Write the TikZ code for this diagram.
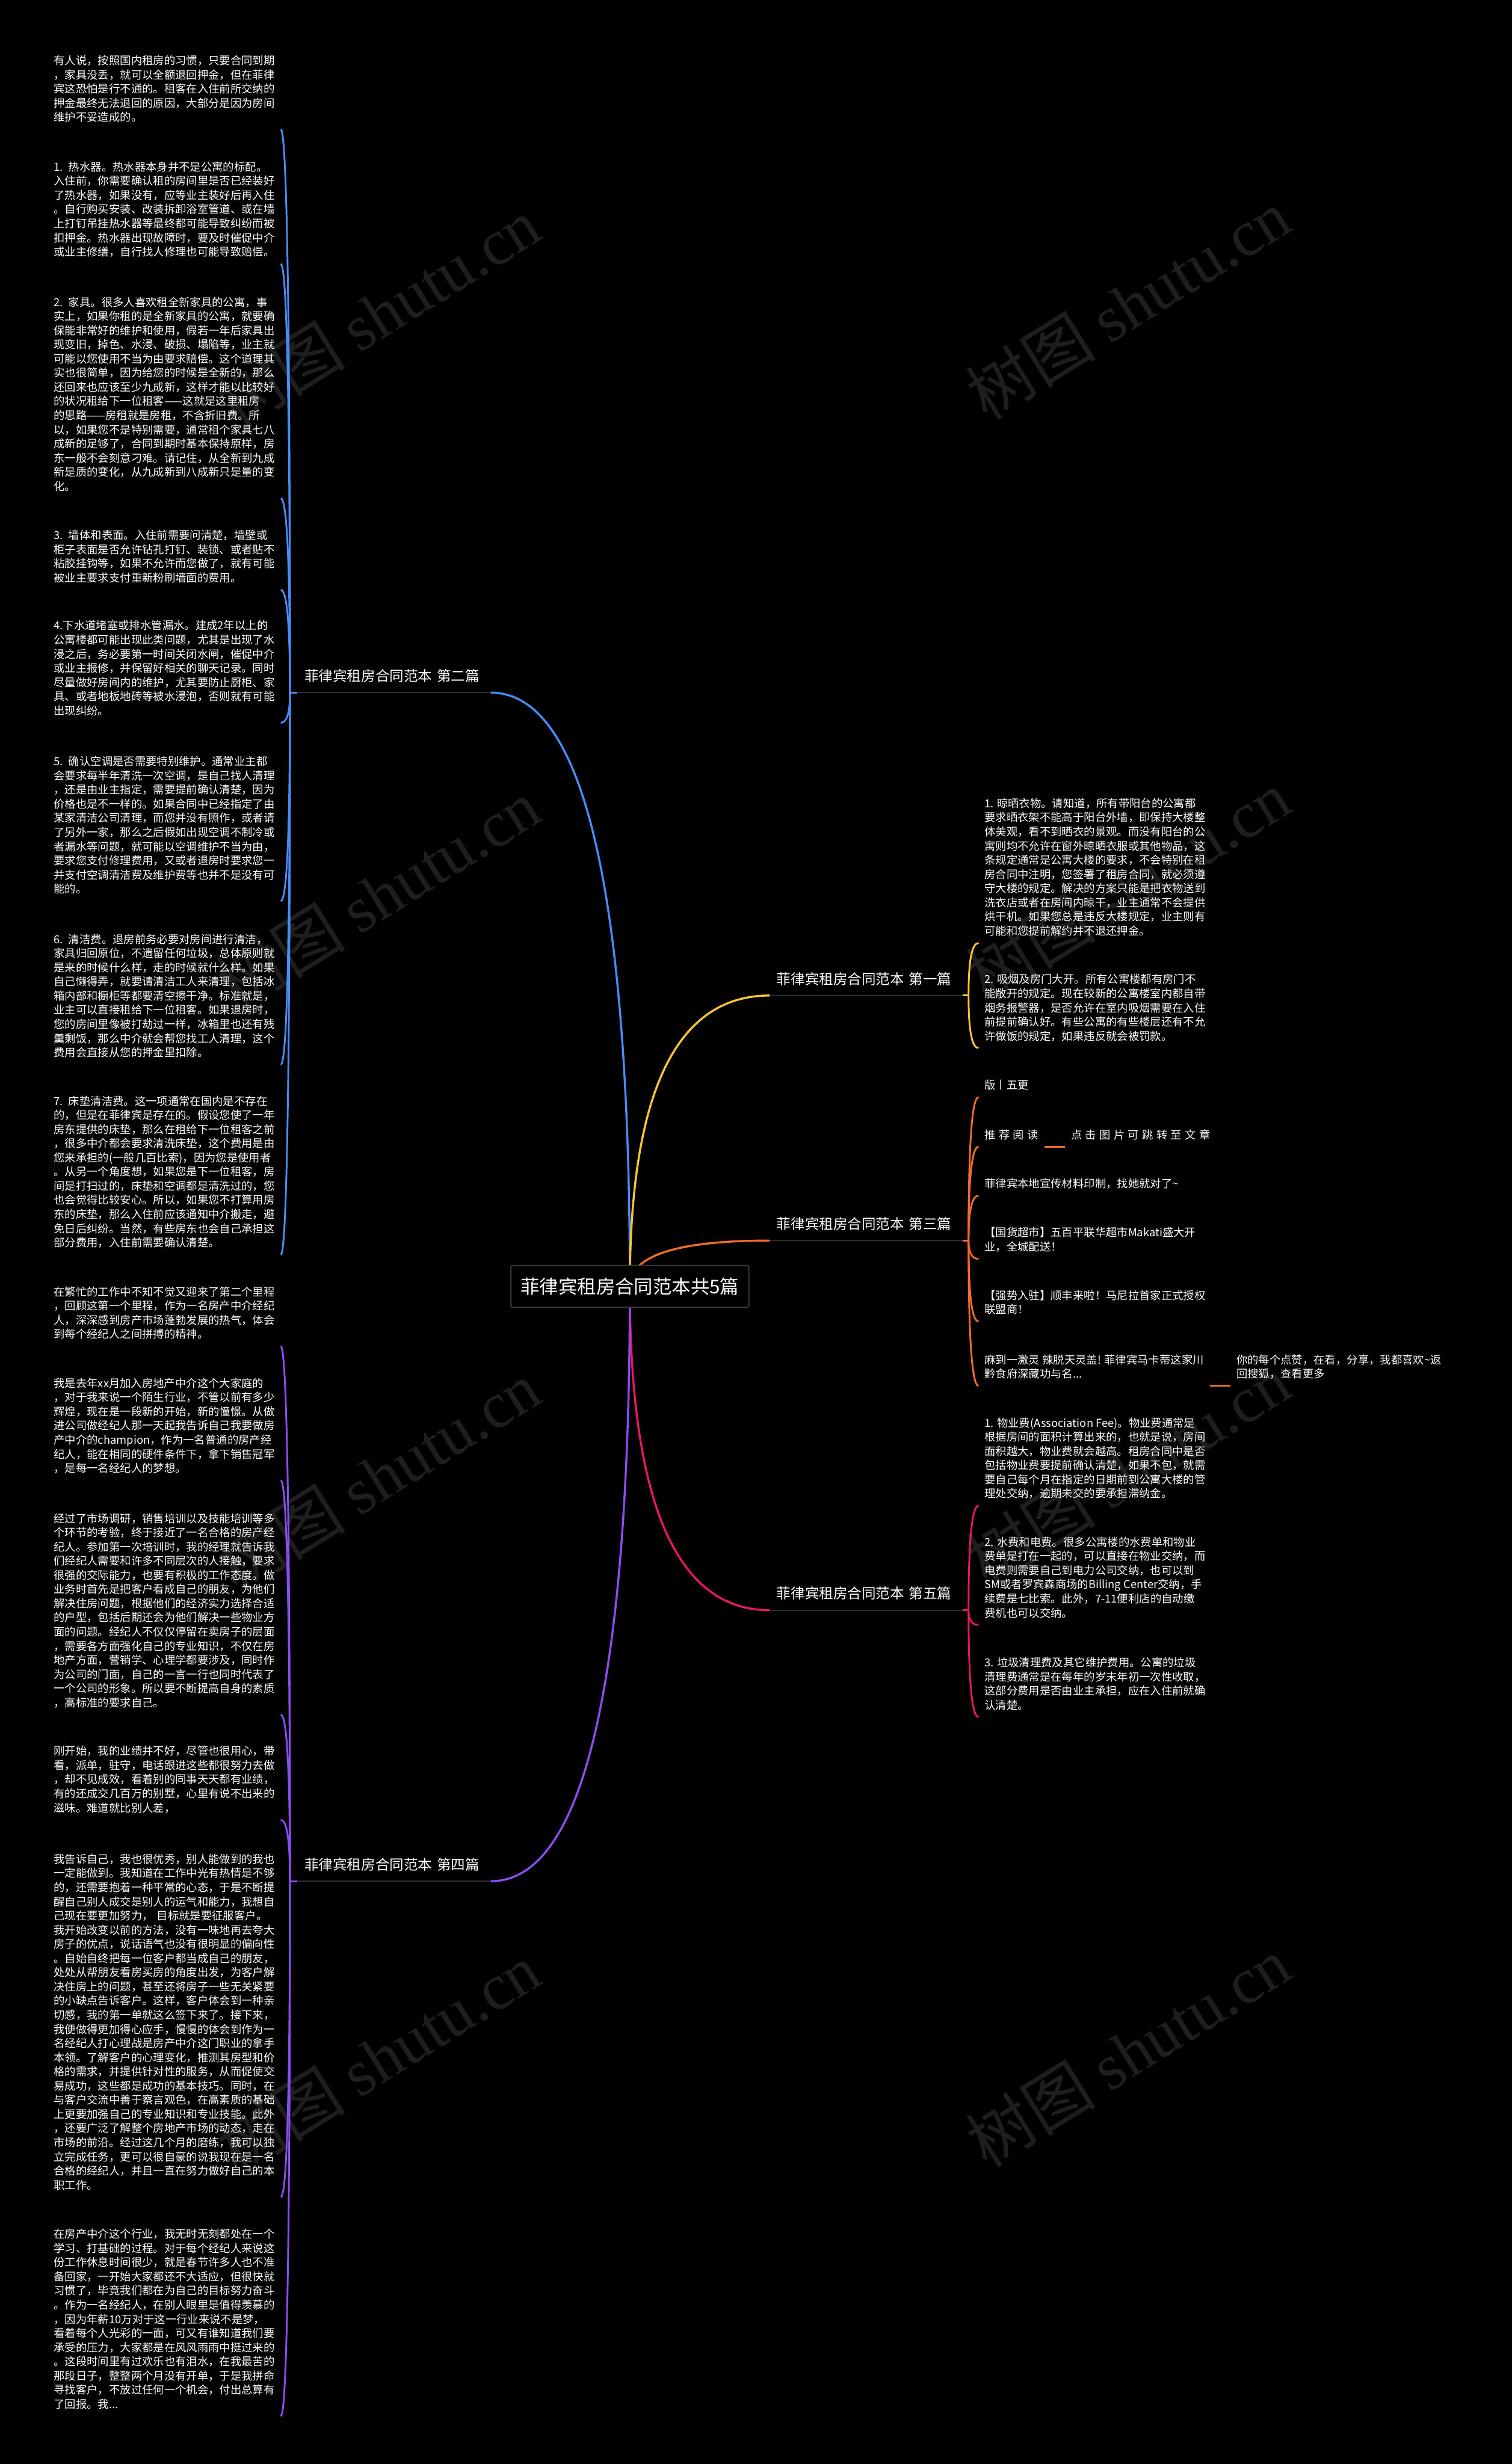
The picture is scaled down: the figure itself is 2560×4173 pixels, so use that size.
\documentclass[tikz,border=0pt]{standalone}
\usepackage{fontspec}
\setmainfont{Noto Sans CJK SC}
\newfontfamily\spacedfont{Noto Sans CJK SC}[LetterSpace=29]
\newfontfamily\wmfont{Liberation Serif}
\usetikzlibrary{calc}
\hyphenpenalty=10000
\exhyphenpenalty=10000
\definecolor{cblue}{HTML}{4A8CF7}
\definecolor{cyellow}{HTML}{F8C630}
\definecolor{corange}{HTML}{F26B2A}
\definecolor{cpink}{HTML}{E8175F}
\definecolor{cpurple}{HTML}{8A4DF2}
\definecolor{ulc}{HTML}{2E2E2E}
\definecolor{boxc}{HTML}{3A3A3A}
\definecolor{wmc}{HTML}{1E1E1E}
\tikzset{
  mainline/.style={line width=3.5pt},
  bracketline/.style={line width=3pt},
  lchild/.style={anchor=south west, text width=380pt, align=left, inner xsep=4pt, inner ysep=6pt,
    font=\fontsize{18.7pt}{24pt}\selectfont, text=white, execute at end node=\strut},
  rchild/.style={anchor=south west, align=left, inner xsep=10pt, inner ysep=6pt,
    font=\fontsize{18.7pt}{24pt}\selectfont, text=white, execute at end node=\strut},
  branch/.style={font=\fontsize{24pt}{28pt}\selectfont, text=white, text width=303pt, align=left,
    text height=17pt, text depth=5pt, inner xsep=12pt, inner ysep=14pt},
  uline/.style={draw=ulc, line width=2pt},
  centernode/.style={draw=boxc, line width=2pt, fill=black, rounded corners=3pt,
    minimum width=403pt, minimum height=71pt, font=\fontsize{32pt}{36pt}\selectfont,
    text=white, inner sep=0pt},
  wm/.style={font=\fontsize{110pt}{110pt}\selectfont, text=wmc, rotate=32, inner sep=0pt},
  qc/.style={to path={.. controls ($(\tikztostart)!0.667!(\tikztostart|-\tikztotarget)$)
      and ($(\tikztotarget)!0.667!(\tikztostart|-\tikztotarget)$) .. (\tikztotarget)}}
}
\begin{document}
\begin{tikzpicture}[x=1pt,y=-1pt]
\useasboundingbox (0,0) rectangle (2560,4173);
\fill[black] (0,0) rectangle (2560,4173);

% watermarks
\foreach \wx/\wy [count=\i] in {640/530, 1910/515, 640/1515, 1910/1500, 640/2500, 1910/2490, 640/3485, 1910/3475}
  {\node[wm] (wm\i) at (\wx,\wy) {树图 {\wmfont shutu.cn}};}

\coordinate (cc) at (1066.5,2178.5);

% branch nodes
\node[branch, anchor=south west] (B1) at (1303,1686) {菲律宾租房合同范本 第一篇};
\node[branch, anchor=south east] (B2) at (831,1173) {菲律宾租房合同范本 第二篇};
\node[branch, anchor=south west] (B3) at (1303,2101) {菲律宾租房合同范本 第三篇};
\node[branch, anchor=south east] (B4) at (831,3186) {菲律宾租房合同范本 第四篇};
\node[branch, anchor=south west] (B5) at (1303,2727) {菲律宾租房合同范本 第五篇};

\coordinate (j1) at (1640,1686);
\coordinate (j2) at (491,1173);
\coordinate (j3) at (1640,2101);
\coordinate (j4) at (491,3186);
\coordinate (j5) at (1640,2727);

% left children of B2
\node[lchild] (L0) at (87,219) {有人说，按照国内租房的习惯，只要合同到期\\，家具没丢，就可以全额退回押金，但在菲律\\宾这恐怕是行不通的。租客在入住前所交纳的\\押金最终无法退回的原因，大部分是因为房间\\维护不妥造成的。};
\node[lchild] (L1) at (87,447) {1. 热水器。热水器本身并不是公寓的标配。\\入住前，你需要确认租的房间里是否已经装好\\了热水器，如果没有，应等业主装好后再入住\\。自行购买安装、改装拆卸浴室管道、或在墙\\上打钉吊挂热水器等最终都可能导致纠纷而被\\扣押金。热水器出现故障时，要及时催促中介\\或业主修缮，自行找人修理也可能导致赔偿。};
\node[lchild] (L2) at (87,844) {2. 家具。很多人喜欢租全新家具的公寓，事\\实上，如果你租的是全新家具的公寓，就要确\\保能非常好的维护和使用，假若一年后家具出\\现变旧，掉色、水浸、破损、塌陷等，业主就\\可能以您使用不当为由要求赔偿。这个道理其\\实也很简单，因为给您的时候是全新的，那么\\还回来也应该至少九成新，这样才能以比较好\\的状况租给下一位租客——这就是这里租房\\的思路——房租就是房租，不含折旧费。所\\以，如果您不是特别需要，通常租个家具七八\\成新的足够了，合同到期时基本保持原样，房\\东一般不会刻意刁难。请记住，从全新到九成\\新是质的变化，从九成新到八成新只是量的变\\化。};
\node[lchild] (L3) at (87,999) {3. 墙体和表面。入住前需要问清楚，墙壁或\\柜子表面是否允许钻孔打钉、装锁、或者贴不\\粘胶挂钩等，如果不允许而您做了，就有可能\\被业主要求支付重新粉刷墙面的费用。};
\node[lchild] (L4) at (87,1224) {4.下水道堵塞或排水管漏水。建成2年以上的\\公寓楼都可能出现此类问题，尤其是出现了水\\浸之后，务必要第一时间关闭水闸，催促中介\\或业主报修，并保留好相关的聊天记录。同时\\尽量做好房间内的维护，尤其要防止厨柜、家\\具、或者地板地砖等被水浸泡，否则就有可能\\出现纠纷。};
\node[lchild] (L5) at (87,1526) {5. 确认空调是否需要特别维护。通常业主都\\会要求每半年清洗一次空调，是自己找人清理\\，还是由业主指定，需要提前确认清楚，因为\\价格也是不一样的。如果合同中已经指定了由\\某家清洁公司清理，而您并没有照作，或者请\\了另外一家，那么之后假如出现空调不制冷或\\者漏水等问题，就可能以空调维护不当为由，\\要求您支付修理费用，又或者退房时要求您一\\并支付空调清洁费及维护费等也并不是没有可\\能的。};
\node[lchild] (L6) at (87,1803) {6. 清洁费。退房前务必要对房间进行清洁，\\家具归回原位，不遗留任何垃圾，总体原则就\\是来的时候什么样，走的时候就什么样。如果\\自己懒得弄，就要请清洁工人来清理，包括冰\\箱内部和橱柜等都要清空擦干净。标准就是，\\业主可以直接租给下一位租客。如果退房时，\\您的房间里像被打劫过一样，冰箱里也还有残\\羹剩饭，那么中介就会帮您找工人清理，这个\\费用会直接从您的押金里扣除。};
\node[lchild] (L7) at (87,2125) {7. 床垫清洁费。这一项通常在国内是不存在\\的，但是在菲律宾是存在的。假设您使了一年\\房东提供的床垫，那么在租给下一位租客之前\\，很多中介都会要求清洗床垫，这个费用是由\\您来承担的(一般几百比索)，因为您是使用者\\。从另一个角度想，如果您是下一位租客，房\\间是打扫过的，床垫和空调都是清洗过的，您\\也会觉得比较安心。所以，如果您不打算用房\\东的床垫，那么入住前应该通知中介搬走，避\\免日后纠纷。当然，有些房东也会自己承担这\\部分费用，入住前需要确认清楚。};

% left children of B4
\node[lchild] (L8) at (87,2280) {在繁忙的工作中不知不觉又迎来了第二个里程\\，回顾这第一个里程，作为一名房产中介经纪\\人，深深感到房产市场蓬勃发展的热气，体会\\到每个经纪人之间拼搏的精神。};
\node[lchild] (L9) at (87,2507) {我是去年xx月加入房地产中介这个大家庭的\\，对于我来说一个陌生行业，不管以前有多少\\辉煌，现在是一段新的开始，新的憧憬。从做\\进公司做经纪人那一天起我告诉自己我要做房\\产中介的champion，作为一名普通的房产经\\纪人，能在相同的硬件条件下，拿下销售冠军\\，是每一名经纪人的梦想。};
\node[lchild] (L10) at (87,2904) {经过了市场调研，销售培训以及技能培训等多\\个环节的考验，终于接近了一名合格的房产经\\纪人。参加第一次培训时，我的经理就告诉我\\们经纪人需要和许多不同层次的人接触，要求\\很强的交际能力，也要有积极的工作态度。做\\业务时首先是把客户看成自己的朋友，为他们\\解决住房问题，根据他们的经济实力选择合适\\的户型，包括后期还会为他们解决一些物业方\\面的问题。经纪人不仅仅停留在卖房子的层面\\，需要各方面强化自己的专业知识，不仅在房\\地产方面，营销学、心理学都要涉及，同时作\\为公司的门面，自己的一言一行也同时代表了\\一个公司的形象。所以要不断提高自身的素质\\，高标准的要求自己。};
\node[lchild] (L11) at (87,3082) {刚开始，我的业绩并不好，尽管也很用心，带\\看，派单，驻守，电话跟进这些都很努力去做\\，却不见成效，看着别的同事天天都有业绩，\\有的还成交几百万的别墅，心里有说不出来的\\滋味。难道就比别人差，};
\node[lchild] (L12) at (87,3721) {我告诉自己，我也很优秀，别人能做到的我也\\一定能做到。我知道在工作中光有热情是不够\\的，还需要抱着一种平常的心态，于是不断提\\醒自己别人成交是别人的运气和能力，我想自\\己现在要更加努力， 目标就是要征服客户。\\我开始改变以前的方法，没有一味地再去夸大\\房子的优点，说话语气也没有很明显的偏向性\\。自始自终把每一位客户都当成自己的朋友，\\处处从帮朋友看房买房的角度出发，为客户解\\决住房上的问题，甚至还将房子一些无关紧要\\的小缺点告诉客户。这样，客户体会到一种亲\\切感，我的第一单就这么签下来了。接下来，\\我便做得更加得心应手，慢慢的体会到作为一\\名经纪人打心理战是房产中介这门职业的拿手\\本领。了解客户的心理变化，推测其房型和价\\格的需求，并提供针对性的服务，从而促使交\\易成功，这些都是成功的基本技巧。同时，在\\与客户交流中善于察言观色，在高素质的基础\\上更要加强自己的专业知识和专业技能。此外\\，还要广泛了解整个房地产市场的动态，走在\\市场的前沿。经过这几个月的磨练，我可以独\\立完成任务，更可以很自豪的说我现在是一名\\合格的经纪人，并且一直在努力做好自己的本\\职工作。};
\node[lchild] (L13) at (87,4092) {在房产中介这个行业，我无时无刻都处在一个\\学习、打基础的过程。对于每个经纪人来说这\\份工作休息时间很少，就是春节许多人也不准\\备回家，一开始大家都还不大适应，但很快就\\习惯了，毕竟我们都在为自己的目标努力奋斗\\。作为一名经纪人，在别人眼里是值得羡慕的\\，因为年薪10万对于这一行业来说不是梦，\\看着每个人光彩的一面，可又有谁知道我们要\\承受的压力，大家都是在风风雨雨中挺过来的\\。这段时间里有过欢乐也有泪水，在我最苦的\\那段日子，整整两个月没有开单，于是我拼命\\寻找客户，不放过任何一个机会，付出总算有\\了回报。我...};

% right children of B1
\node[rchild] (R1) at (1657,1597) {1. 晾晒衣物。请知道，所有带阳台的公寓都\\要求晒衣架不能高于阳台外墙，即保持大楼整\\体美观，看不到晒衣的景观。而没有阳台的公\\寓则均不允许在窗外晾晒衣服或其他物品，这\\条规定通常是公寓大楼的要求，不会特别在租\\房合同中注明，您签署了租房合同，就必须遵\\守大楼的规定。解决的方案只能是把衣物送到\\洗衣店或者在房间内晾干，业主通常不会提供\\烘干机。如果您总是违反大楼规定，业主则有\\可能和您提前解约并不退还押金。};
\node[rchild] (R2) at (1657,1775) {2. 吸烟及房门大开。所有公寓楼都有房门不\\能敞开的规定。现在较新的公寓楼室内都自带\\烟务报警器，是否允许在室内吸烟需要在入住\\前提前确认好。有些公寓的有些楼层还有不允\\许做饭的规定，如果违反就会被罚款。};

% right children of B3
\node[rchild] (O1) at (1657,1858) {版丨五更};
\node[rchild] (O2) at (1657,1942) {{\spacedfont 推荐阅读}};
\node[rchild] (O2c) at ([xshift=35pt]O2.south east) {{\spacedfont 点击图片可跳转至文章}};
\node[rchild] (O3) at (1657,2025) {菲律宾本地宣传材料印制，找她就对了\textasciitilde};
\node[rchild] (O4) at (1657,2132) {【国货超市】五百平联华超市Makati盛大开\\业，全城配送！};
\node[rchild] (O5) at (1657,2238) {【强势入驻】顺丰来啦！马尼拉首家正式授权\\联盟商！};
\node[rchild] (O6) at (1657,2347) {麻到一激灵 辣脱天灵盖! 菲律宾马卡蒂这家川\\黔食府深藏功与名...};
\node[rchild] (O6c) at ([xshift=35pt]O6.south east) {你的每个点赞，在看，分享，我都喜欢\textasciitilde 返\\回搜狐，查看更多};

% right children of B5
\node[rchild] (P1) at (1657,2550) {1. 物业费(Association Fee)。物业费通常是\\根据房间的面积计算出来的，也就是说，房间\\面积越大，物业费就会越高。租房合同中是否\\包括物业费要提前确认清楚，如果不包，就需\\要自己每个月在指定的日期前到公寓大楼的管\\理处交纳，逾期未交的要承担滞纳金。};
\node[rchild] (P2) at (1657,2752) {2. 水费和电费。很多公寓楼的水费单和物业\\费单是打在一起的，可以直接在物业交纳，而\\电费则需要自己到电力公司交纳，也可以到\\SM或者罗宾森商场的Billing Center交纳，手\\续费是七比索。此外，7-11便利店的自动缴\\费机也可以交纳。};
\node[rchild] (P3) at (1657,2908) {3. 垃圾清理费及其它维护费用。公寓的垃圾\\清理费通常是在每年的岁末年初一次性收取，\\这部分费用是否由业主承担，应在入住前就确\\认清楚。};

% branch underlines
\foreach \b in {B1,B2,B3,B4,B5} {\draw[uline] (\b.south west) -- (\b.south east);}

% main curves from centre
\draw[mainline, cblue] (cc) to[qc] (B2.south east);
\draw[mainline, cyellow] (cc) to[qc] (B1.south west);
\draw[mainline, corange] (cc) to[qc] (B3.south west);
\draw[mainline, cpink] (cc) to[qc] (B5.south west);
\draw[mainline, cpurple] (cc) to[qc] (B4.south east);

% stubs
\draw[bracketline, cyellow] (B1.south east) -- (j1);
\draw[bracketline, cblue] (B2.south west) -- (j2);
\draw[bracketline, corange] (B3.south east) -- (j3);
\draw[bracketline, cpurple] (B4.south west) -- (j4);
\draw[bracketline, cpink] (B5.south east) -- (j5);

% brackets
\foreach \c in {L0,L1,L2,L3,L4,L5,L6,L7} {\draw[bracketline, cblue] (j2) to[qc] (\c.south east);}
\foreach \c in {L8,L9,L10,L11,L12,L13} {\draw[bracketline, cpurple] (j4) to[qc] (\c.south east);}
\foreach \c in {R1,R2} {\draw[bracketline, cyellow] (j1) to[qc] (\c.south west);}
\foreach \c in {O1,O2,O3,O4,O5,O6} {\draw[bracketline, corange] (j3) to[qc] (\c.south west);}
\foreach \c in {P1,P2,P3} {\draw[bracketline, cpink] (j5) to[qc] (\c.south west);}
\draw[bracketline, corange] (O2.south east) -- (O2c.south west);
\draw[bracketline, corange] (O6.south east) -- (O6c.south west);

% centre node on top
\node[centernode] (C) at (cc) {菲律宾租房合同范本共5篇};
\end{tikzpicture}
\end{document}
